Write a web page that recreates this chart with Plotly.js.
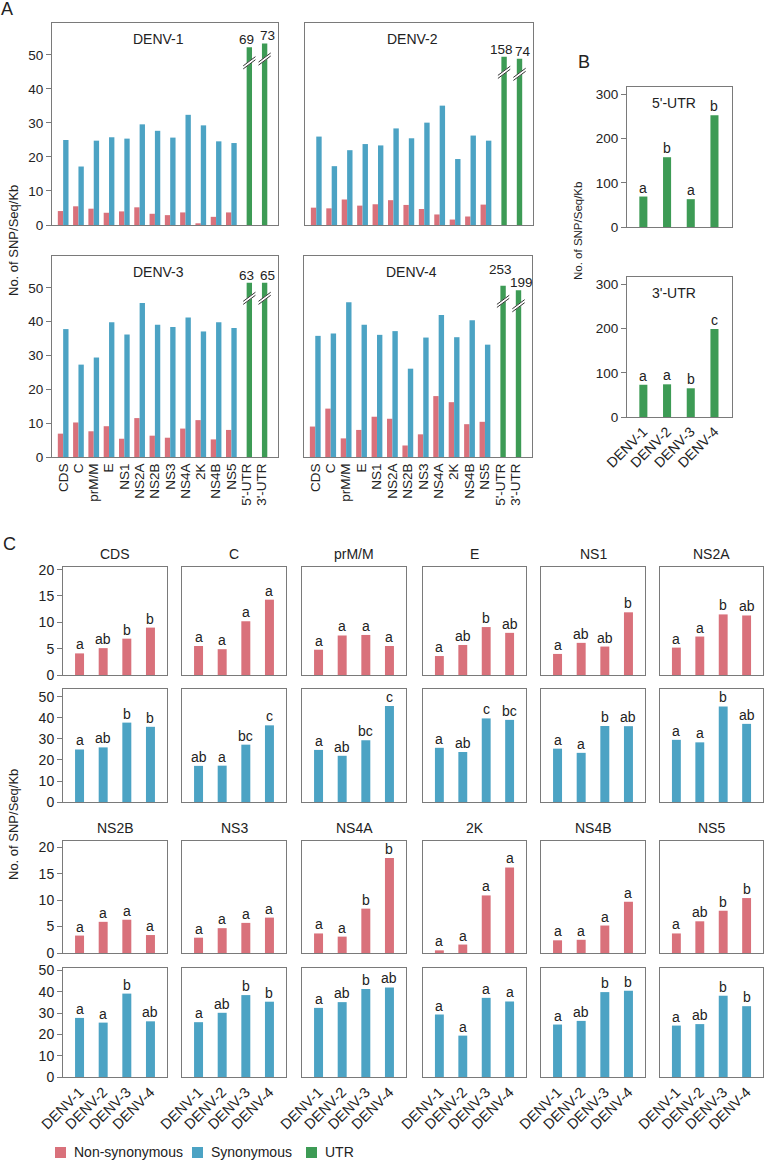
<!DOCTYPE html>
<html><head><meta charset="utf-8">
<script src="https://cdn.plot.ly/plotly-3.0.1.min.js"></script>
<style>html,body{margin:0;padding:0;background:#fff}</style>
</head><body><div id="chart" style="width:764px;height:1160px"></div>
<script>
// ---------------- DATA ----------------
const genes = ['CDS','C','prM/M','E','NS1','NS2A','NS2B','NS3','NS4A','2K','NS4B','NS5'];
const utrs = ["5'-UTR", "3'-UTR"];
const serotypes = ['DENV-1','DENV-2','DENV-3','DENV-4'];

// Non-synonymous SNP/Seq/Kb per gene (order = genes)
const nonSyn_D1 = [4.1, 5.5, 4.8, 3.6, 4.0, 5.2, 3.3, 2.9, 3.7, 0.5, 2.4, 3.7];
const nonSyn_D2 = [5.1, 4.9, 7.5, 5.7, 6.1, 7.3, 5.9, 4.7, 3.1, 1.6, 2.5, 6.0];
const nonSyn_D3 = [6.9, 10.2, 7.6, 9.1, 5.4, 11.5, 6.3, 5.7, 8.4, 10.9, 5.2, 8.0];
const nonSyn_D4 = [9.0, 14.3, 5.5, 8.0, 11.9, 11.3, 3.4, 6.7, 18.0, 16.2, 9.7, 10.4];
// Synonymous SNP/Seq/Kb per gene
const syn_D1 = [25.0, 17.2, 24.8, 25.8, 25.4, 29.6, 27.7, 25.7, 32.4, 29.3, 24.6, 24.1];
const syn_D2 = [26.0, 17.3, 22.0, 23.8, 23.4, 28.4, 25.5, 30.1, 35.1, 19.4, 26.3, 24.8];
const syn_D3 = [37.8, 27.3, 29.4, 39.8, 36.2, 45.5, 39.1, 38.4, 41.2, 37.1, 39.8, 38.1];
const syn_D4 = [35.8, 36.5, 45.7, 39.1, 36.1, 37.2, 26.1, 35.3, 42.0, 35.4, 40.4, 33.2];

// UTR values (order = serotypes)
const utr5 = [69, 158, 63, 253];
const utr3 = [73, 74, 65, 199];
// UTR bar heights as drawn on the broken axis of panel A ([5'-UTR, 3'-UTR])
const utrShown_D1 = [52.3, 53.4];
const utrShown_D2 = [49.5, 48.9];
const utrShown_D3 = [51.5, 51.5];
const utrShown_D4 = [50.6, 49.3];

// significance letters, panel B
const utr5Letters = ['a','b','a','b'];
const utr3Letters = ['a','a','b','c'];
// significance letters, panel C (order = genes, then serotypes)
const nonSynLetters = [
  ['a','ab','b','b'], ['a','a','a','a'], ['a','a','a','a'], ['a','ab','b','ab'],
  ['a','ab','ab','b'], ['a','a','b','ab'], ['a','a','a','a'], ['a','a','a','a'],
  ['a','a','b','b'], ['a','a','a','a'], ['a','a','a','a'], ['a','ab','b','b']
];
const synLetters = [
  ['a','ab','b','b'], ['ab','a','bc','c'], ['a','ab','bc','c'], ['a','ab','c','bc'],
  ['a','a','b','ab'], ['a','a','b','ab'], ['a','a','b','ab'], ['a','ab','b','b'],
  ['a','ab','b','ab'], ['a','a','a','a'], ['a','ab','b','b'], ['a','ab','b','b']
];

// ---------------- STYLE / LAYOUT ----------------
const W = 764, H = 1160;
const RED = '#d9717b', BLUE = '#4ca3c4', GREEN = '#3d9b55';
const LINE = '#7a7a7a', TXT = '#222';
const FONT = 'Liberation Sans, Arial, Helvetica, sans-serif';
const nonSyn = [nonSyn_D1, nonSyn_D2, nonSyn_D3, nonSyn_D4];
const syn = [syn_D1, syn_D2, syn_D3, syn_D4];
const utrShown = [utrShown_D1, utrShown_D2, utrShown_D3, utrShown_D4];
const utrLabels = serotypes.map((s, i) => [utr5[i], utr3[i]]);
const utrLabelShift = [[-3, 0], [3, 0]];            // default [dx, dy] for 5'/3' labels
const utrLabelNudge = {'DENV-4': [[-3, 9], [3, 0]]};  // per-panel override

const layout = {
  width: W, height: H, margin: {l:0, r:0, t:0, b:0},
  paper_bgcolor: '#fff', plot_bgcolor: '#fff',
  showlegend: false, barmode: 'overlay',
  font: {family: FONT, size: 14, color: TXT},
  annotations: [], shapes: []
};
const traces = [];
let axN = 0;
function px(x){ return x / W; }
function py(y){ return 1 - y / H; }
function newAxes(box, xopt, yopt){
  axN++;
  const sfx = axN === 1 ? '' : String(axN);
  const xr = 'x' + sfx, yr = 'y' + sfx;
  layout['xaxis' + sfx] = Object.assign({
    domain: [px(box[0]), px(box[1])], anchor: yr,
    showline: true, mirror: true, linecolor: LINE, linewidth: 1,
    showgrid: false, zeroline: false, fixedrange: true, ticks: '',
    tickmode: 'linear', tick0: 0, dtick: 1,
    tickfont: {size: 13.5, color: TXT}
  }, xopt);
  layout['yaxis' + sfx] = Object.assign({
    domain: [py(box[3]), py(box[2])], anchor: xr,
    showline: true, mirror: true, linecolor: LINE, linewidth: 1,
    showgrid: false, zeroline: false, fixedrange: true,
    tickfont: {size: 13.5, color: TXT}
  }, yopt);
  return {x: xr, y: yr, box: box};
}
function label(text, x, y, size, extra){
  layout.annotations.push(Object.assign({xref:'paper', yref:'paper', x: px(x), y: py(y),
    text: text, showarrow: false, xanchor: 'center', yanchor: 'middle',
    font: {size: size, color: TXT}}, extra || {}));
}

// ---------- Panel A ----------
const aBoxes = [[52,278,23,225],[305,533,23,225],[52,278,256,457],[304,532,256,457]];
const aCats = genes.concat(utrs);
const BW = 0.35;
serotypes.forEach((s, si) => {
  const b = aBoxes[si];
  const left = si % 2 === 0, bottom = si >= 2;
  const ax = newAxes(b,
    {type: 'category', categoryorder: 'array', categoryarray: aCats,
     range: [-0.73, 14.05], showticklabels: bottom, tickangle: -90},
    {range: [0, 59.4], tickmode: 'array', tickvals: [0,10,20,30,40,50], showticklabels: left,
     ticks: left ? 'outside' : '', ticklen: 5, tickcolor: LINE});
  traces.push({type:'bar', x: genes, y: nonSyn[si], xaxis: ax.x, yaxis: ax.y,
    offset: -BW, width: BW, marker: {color: RED}, name: 'Non-synonymous', hoverinfo: 'y'});
  traces.push({type:'bar', x: genes, y: syn[si], xaxis: ax.x, yaxis: ax.y,
    offset: 0, width: BW, marker: {color: BLUE}, name: 'Synonymous', hoverinfo: 'y'});
  traces.push({type:'bar', x: utrs, y: utrShown[si], xaxis: ax.x, yaxis: ax.y,
    offset: 0, width: BW, marker: {color: GREEN}, name: 'UTR', hoverinfo: 'y'});
  // panel title
  label(s, b[0] + 0.47 * (b[1] - b[0]), b[2] + 16, 14);
  // UTR value labels and axis-break marks
  utrs.forEach((u, ui) => {
    const cx = genes.length + ui + BW / 2;
    const top = utrShown[si][ui];
    const nudge = (utrLabelNudge[s] || utrLabelShift)[ui];
    layout.annotations.push({xref: ax.x, yref: ax.y, x: cx, y: top,
      text: String(utrLabels[si][ui]), showarrow: false, xanchor: 'center', yanchor: 'bottom',
      xshift: nudge[0], yshift: -2 + nudge[1], font: {size: 13.5, color: TXT}});
    const yc = top - 4.6, dx = 0.4, dy = 1.35, gap = 0.45;
    layout.shapes.push({type:'line', xref: ax.x, yref: ax.y, x0: cx - dx, x1: cx + dx,
      y0: yc - dy, y1: yc + dy, line: {color: '#fff', width: 3}});
    [-gap, gap].forEach(g => layout.shapes.push({type:'line', xref: ax.x, yref: ax.y,
      x0: cx - dx, x1: cx + dx, y0: yc - dy + g, y1: yc + dy + g,
      line: {color: '#333', width: 1}}));
  });
});

// ---------- Panel B ----------
const bBoxes = [[627,732,87,227],[627,732,277,417]];
[[utr5, utr5Letters, "5'-UTR"], [utr3, utr3Letters, "3'-UTR"]].forEach((d, di) => {
  const b = bBoxes[di];
  const ax = newAxes(b,
    {type:'category', categoryorder:'array', categoryarray: serotypes,
     range: [-0.69, 3.74], showticklabels: di === 1, tickangle: -45, tickfont: {size: 14, color: TXT}},
    {range: [0, 317], tickmode: 'array', tickvals: [0,100,200,300], ticks: 'outside', ticklen: 5, tickcolor: LINE});
  traces.push({type:'bar', x: serotypes, y: d[0], xaxis: ax.x, yaxis: ax.y,
    offset: -0.17, width: 0.34, marker: {color: GREEN}, name: 'UTR', hoverinfo: 'y'});
  serotypes.forEach((s, i) => layout.annotations.push({xref: ax.x, yref: ax.y, x: s, y: d[0][i],
    text: d[1][i], showarrow: false, yanchor: 'bottom', yshift: -1, font: {size: 14, color: TXT}}));
  label(d[2], 674, b[2] + 16, 14);
});

// ---------- Panel C ----------
const cCols = [[63,167],[182,286],[302,406],[423,526],[541,645],[660,763]];
const cRows = [[567,675],[689,802],[841,953],[968,1077]];
const cRedRange = [20.5, 21.2], cBlueRange = [53.8, 51.1];
genes.forEach((g, gi) => {
  const pair = gi < 6 ? 0 : 1, col = gi % 6;
  const cx = cCols[col];
  const rRed = cRows[pair * 2], rBlue = cRows[pair * 2 + 1];
  const redVals = serotypes.map((s, i) => nonSyn[i][gi]);
  const blueVals = serotypes.map((s, i) => syn[i][gi]);
  const axR = newAxes([cx[0], cx[1], rRed[0], rRed[1]],
    {type:'category', categoryorder:'array', categoryarray: serotypes, range: [-0.7, 3.7], showticklabels: false},
    {range: [0, cRedRange[pair]], tickmode: 'array', tickvals: [0,5,10,15,20], showticklabels: col === 0,
     ticks: col === 0 ? 'outside' : '', ticklen: 5, tickcolor: LINE, tickfont: {size: 14, color: TXT}});
  const axB = newAxes([cx[0], cx[1], rBlue[0], rBlue[1]],
    {type:'category', categoryorder:'array', categoryarray: serotypes, range: [-0.7, 3.7],
     showticklabels: pair === 1, tickangle: -45, tickfont: {size: 14.5, color: TXT}},
    {range: [0, cBlueRange[pair]], tickmode: 'array', tickvals: [0,10,20,30,40,50], showticklabels: col === 0,
     ticks: col === 0 ? 'outside' : '', ticklen: 5, tickcolor: LINE, tickfont: {size: 14, color: TXT}});
  traces.push({type:'bar', x: serotypes, y: redVals, xaxis: axR.x, yaxis: axR.y,
    offset: -0.19, width: 0.38, marker: {color: RED}, name: 'Non-synonymous', hoverinfo: 'y'});
  traces.push({type:'bar', x: serotypes, y: blueVals, xaxis: axB.x, yaxis: axB.y,
    offset: -0.19, width: 0.38, marker: {color: BLUE}, name: 'Synonymous', hoverinfo: 'y'});
  serotypes.forEach((s, i) => {
    layout.annotations.push({xref: axR.x, yref: axR.y, x: s, y: redVals[i], text: nonSynLetters[gi][i],
      showarrow: false, yanchor: 'bottom', yshift: -1, font: {size: 14, color: TXT}});
    layout.annotations.push({xref: axB.x, yref: axB.y, x: s, y: blueVals[i], text: synLetters[gi][i],
      showarrow: false, yanchor: 'bottom', yshift: -1, font: {size: 14, color: TXT}});
  });
  label(g, (cx[0] + cx[1]) / 2, rRed[0] - 13, 14);
});

// ---------- Axis titles, panel letters, legend ----------
label('No. of SNP/Seq/Kb', 14, 241, 13, {textangle: -90});
label('No. of SNP/Seq/Kb', 14, 825, 13, {textangle: -90});
label('No. of SNP/Seq/Kb', 578, 231, 11.5, {textangle: -90});
label('A', 7, 9, 18);
label('B', 584, 62, 18);
label('C', 9, 544, 18);

const legendItems = [['Non-synonymous', RED, 55], ['Synonymous', BLUE, 192], ['UTR', GREEN, 306]];
legendItems.forEach(it => {
  layout.shapes.push({type:'rect', xref:'paper', yref:'paper', x0: px(it[2]), x1: px(it[2] + 11),
    y0: py(1158), y1: py(1147), fillcolor: it[1], line: {width: 0}});
  label(it[0], it[2] + 17, 1152, 14, {xanchor: 'left'});
});

Plotly.newPlot('chart', traces, layout, {staticPlot: true, displayModeBar: false});
</script></body></html>
